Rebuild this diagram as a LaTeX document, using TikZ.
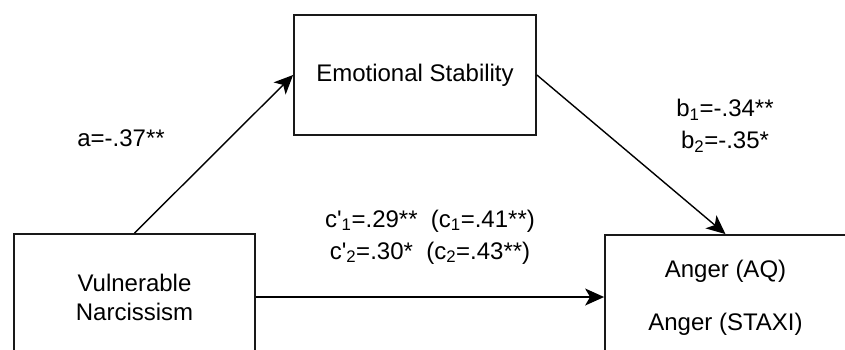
\documentclass[tikz,border=0pt]{standalone}
\usepackage{fontspec}
\setmainfont{Liberation Sans}
\usetikzlibrary{arrows.meta}
\begin{document}
\begin{tikzpicture}[x=1pt,y=-1pt,
  box/.style={draw=black!90,line width=1.8pt,minimum width=241pt,inner sep=0pt,align=center,font=\fontsize{24}{29}\selectfont},
  lbl/.style={inner sep=0pt,align=center,font=\fontsize{24}{32}\selectfont},
  conn/.style={line width=1.4pt,-{Stealth[length=19pt,width=17pt,inset=5pt]}}]
\useasboundingbox (0,0) rectangle (845,349);
\clip (0,0) rectangle (845,349);
\fill[white] (0,0) rectangle (845,349);
\node[box,minimum width=242pt,minimum height=120pt] (es) at (415,75) {Emotional Stability};
\node[box,minimum height=126pt] (vn) at (134.5,297) {Vulnerable\\Narcissism};
\node[box,minimum height=126pt] (ag) at (725.5,298) {Anger (AQ)\\[24pt]Anger (STAXI)};
\draw[conn] (vn.north) -- (es.west);
\draw[conn] (es.east) -- (ag.north);
\draw[conn] (vn.east) -- (ag.west |- vn.east);
\node[lbl] (la) at (121,138) {a=-.37**};
\node[lbl] (lb) at (725,126) {b\textsubscript{1}=-.34**\\b\textsubscript{2}=-.35*};
\node[lbl] (lc) at (430,237) {c\textquotesingle\textsubscript{1}=.29**\ \ (c\textsubscript{1}=.41**)\\c\textquotesingle\textsubscript{2}=.30*\ \ (c\textsubscript{2}=.43**)};
\end{tikzpicture}
\end{document}
